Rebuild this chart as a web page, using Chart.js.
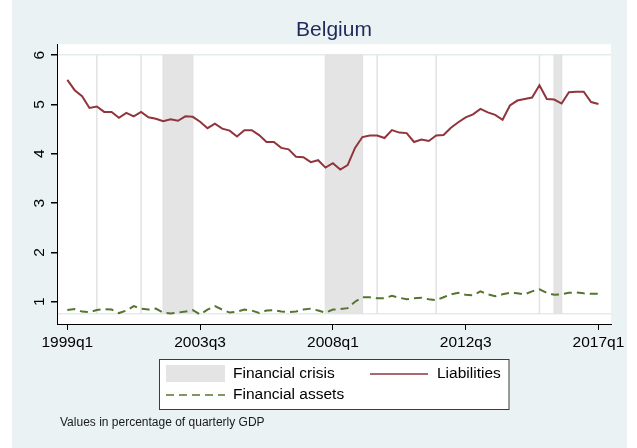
<!DOCTYPE html>
<html>
<head>
<meta charset="utf-8">
<script src="https://cdn.jsdelivr.net/npm/chart.js@4"></script>
<style>
  body { margin: 0; background: #fff; }
  #wrap { width: 637px; height: 448px; }
</style>
</head>
<body>
<div id="wrap"><canvas id="chart" width="637" height="448"></canvas></div>
<script>
// quarters are counted from 1999q1 (= 0) to 2017q1 (= 72)
const tickQuarters = [0, 18, 36, 54, 72];
const tickLabels = ['1999q1', '2003q3', '2008q1', '2012q3', '2017q1'];

const liabilities = [
  5.50, 5.29, 5.17, 4.93, 4.96, 4.85, 4.85, 4.73, 4.83, 4.76,
  4.85, 4.74, 4.71, 4.66, 4.70, 4.67, 4.76, 4.75, 4.65, 4.52,
  4.61, 4.51, 4.47, 4.35, 4.48, 4.48, 4.38, 4.24, 4.24, 4.12,
  4.09, 3.94, 3.93, 3.83, 3.87, 3.72, 3.81, 3.68, 3.77, 4.12,
  4.34, 4.37, 4.37, 4.32, 4.48, 4.43, 4.42, 4.24, 4.29, 4.26,
  4.37, 4.38, 4.53, 4.64, 4.74, 4.80, 4.91, 4.84, 4.79, 4.69,
  4.98, 5.08, 5.11, 5.14, 5.39, 5.11, 5.10, 5.02, 5.25, 5.26,
  5.26, 5.05, 5.01
];

const assets = [
  0.83, 0.85, 0.80, 0.79, 0.83, 0.85, 0.84, 0.77, 0.82, 0.91,
  0.86, 0.84, 0.86, 0.78, 0.76, 0.78, 0.80, 0.83, 0.74, 0.84,
  0.91, 0.84, 0.78, 0.80, 0.84, 0.82, 0.77, 0.82, 0.83, 0.80,
  0.79, 0.80, 0.84, 0.86, 0.82, 0.78, 0.84, 0.85, 0.87, 1.00,
  1.09, 1.09, 1.07, 1.07, 1.12, 1.08, 1.05, 1.07, 1.08, 1.05,
  1.03, 1.09, 1.15, 1.18, 1.14, 1.13, 1.21, 1.15, 1.11, 1.15,
  1.18, 1.17, 1.15, 1.21, 1.25, 1.18, 1.14, 1.15, 1.18, 1.19,
  1.17, 1.16, 1.16
];

// crisis periods (first and last quarter)
const crisisStart = [4, 10, 13, 35, 42, 50, 64, 66];
const crisisEnd   = [4, 10, 17, 40, 42, 50, 64, 67];
const crisisTop = 6;
const crisisBase = 0.75;

const note = 'Values in percentage of quarterly GDP';

const series = (vals) => vals.map((v, i) => ({ x: i, y: v }));

let crisisPts = [];
for (let i = 0; i < crisisStart.length; i++) {
    const s = crisisStart[i], e = crisisEnd[i];
    crisisPts.push({ x: s, y: crisisBase }, { x: s, y: crisisTop },
                   { x: e, y: crisisTop }, { x: e, y: crisisBase }, { x: e, y: null });
}

const FONT = '"Liberation Sans", Arial, sans-serif';

const backdrop = {
    id: 'backdrop',
    beforeDraw(chart) {
        const c = chart.ctx, a = chart.chartArea;
        c.save();
        c.fillStyle = '#eaf2f3';
        c.fillRect(12, 0, 615, 448);
        c.fillStyle = '#fff';
        c.fillRect(a.left, a.top, a.right - a.left, a.bottom - a.top);
        c.restore();
    }
};

const stataLegend = {
    id: 'stataLegend',
    afterDraw(chart) {
        const c = chart.ctx;
        const ds = chart.data.datasets;
        c.save();
        c.fillStyle = '#fff';
        c.fillRect(159.5, 359.5, 349.5, 50);
        c.strokeStyle = '#3c3c3c';
        c.lineWidth = 1;
        c.strokeRect(159.5, 359.5, 349.5, 50);

        c.font = '15.5px ' + FONT;
        c.textBaseline = 'middle';
        c.fillStyle = '#000';

        // financial crisis
        c.fillStyle = ds[2].backgroundColor;
        c.fillRect(166, 365, 59, 17);
        c.fillStyle = '#000';
        c.fillText(ds[2].label, 233, 374);

        // liabilities
        c.strokeStyle = ds[0].borderColor;
        c.lineWidth = 1.5;
        c.beginPath(); c.moveTo(370, 374); c.lineTo(428, 374); c.stroke();
        c.fillText(ds[0].label, 437, 374);

        // financial assets
        c.strokeStyle = ds[1].borderColor;
        c.setLineDash(ds[1].borderDash);
        c.beginPath(); c.moveTo(166, 395); c.lineTo(225, 395); c.stroke();
        c.setLineDash([]);
        c.fillText(ds[1].label, 233, 395);

        c.font = '12px ' + FONT;
        c.fillStyle = '#1a1a1a';
        c.fillText(note, 60, 423);
        c.restore();
    }
};

new Chart('chart', {
    type: 'line',
    data: {
        datasets: [{
            label: 'Liabilities',
            data: series(liabilities),
            borderColor: '#90353b',
            borderWidth: 2,
            pointRadius: 0,
            order: 1
        }, {
            label: 'Financial assets',
            data: series(assets),
            borderColor: '#55752f',
            borderWidth: 2,
            borderDash: [8, 5],
            pointRadius: 0,
            order: 2
        }, {
            label: 'Financial crisis',
            data: crisisPts,
            borderColor: '#e2e2e2',
            backgroundColor: '#e4e4e4',
            borderWidth: 1.5,
            pointRadius: 0,
            fill: { value: crisisBase },
            spanGaps: false,
            order: 3
        }]
    },
    options: {
        responsive: false,
        animation: false,
        layout: { padding: { top: 0, left: 0, right: 26, bottom: 0 } },
        plugins: {
            legend: { display: false },
            tooltip: { enabled: false },
            title: {
                display: true,
                text: 'Belgium',
                fullSize: false,
                color: '#1e2b5c',
                font: { family: FONT, size: 21, weight: 'normal' },
                padding: { top: 18, bottom: 1 }
            }
        },
        scales: {
            x: {
                type: 'linear',
                min: -1.4,
                max: 73.7,
                afterBuildTicks: (s) => { s.ticks = tickQuarters.map(v => ({ value: v })); },
                afterFit: (s) => { s.height = 124; },
                grid: { drawOnChartArea: false, tickLength: 6, tickColor: '#000' },
                border: { color: '#000', width: 1 },
                ticks: {
                    maxRotation: 0,
                    padding: 3,
                    color: '#000',
                    font: { family: FONT, size: 15.5 },
                    callback: (v) => tickLabels[tickQuarters.indexOf(v)]
                }
            },
            y: {
                min: 0.548,
                max: 6.223,
                afterBuildTicks: (s) => { s.ticks = [crisisBase, 1, 2, 3, 4, 5, 6].map(v => ({ value: v })); },
                afterFit: (s) => { s.width = 57; },
                grid: {
                    tickLength: 6,
                    lineWidth: 1.5,
                    color: (ctx) => (ctx.tick && (ctx.tick.value === 6 || ctx.tick.value === crisisBase)) ? '#e4ebed' : 'rgba(0,0,0,0)',
                    tickColor: (ctx) => (ctx.tick && ctx.tick.value === crisisBase) ? 'rgba(0,0,0,0)' : '#000'
                },
                border: { color: '#000', width: 1 },
                ticks: {
                    minRotation: 90,
                    maxRotation: 90,
                    crossAlign: 'center',
                    padding: 7,
                    color: '#000',
                    font: { family: FONT, size: 15.5 },
                    callback: (v) => v === crisisBase ? '' : v
                }
            }
        }
    },
    plugins: [backdrop, stataLegend]
});
</script>
</body>
</html>
